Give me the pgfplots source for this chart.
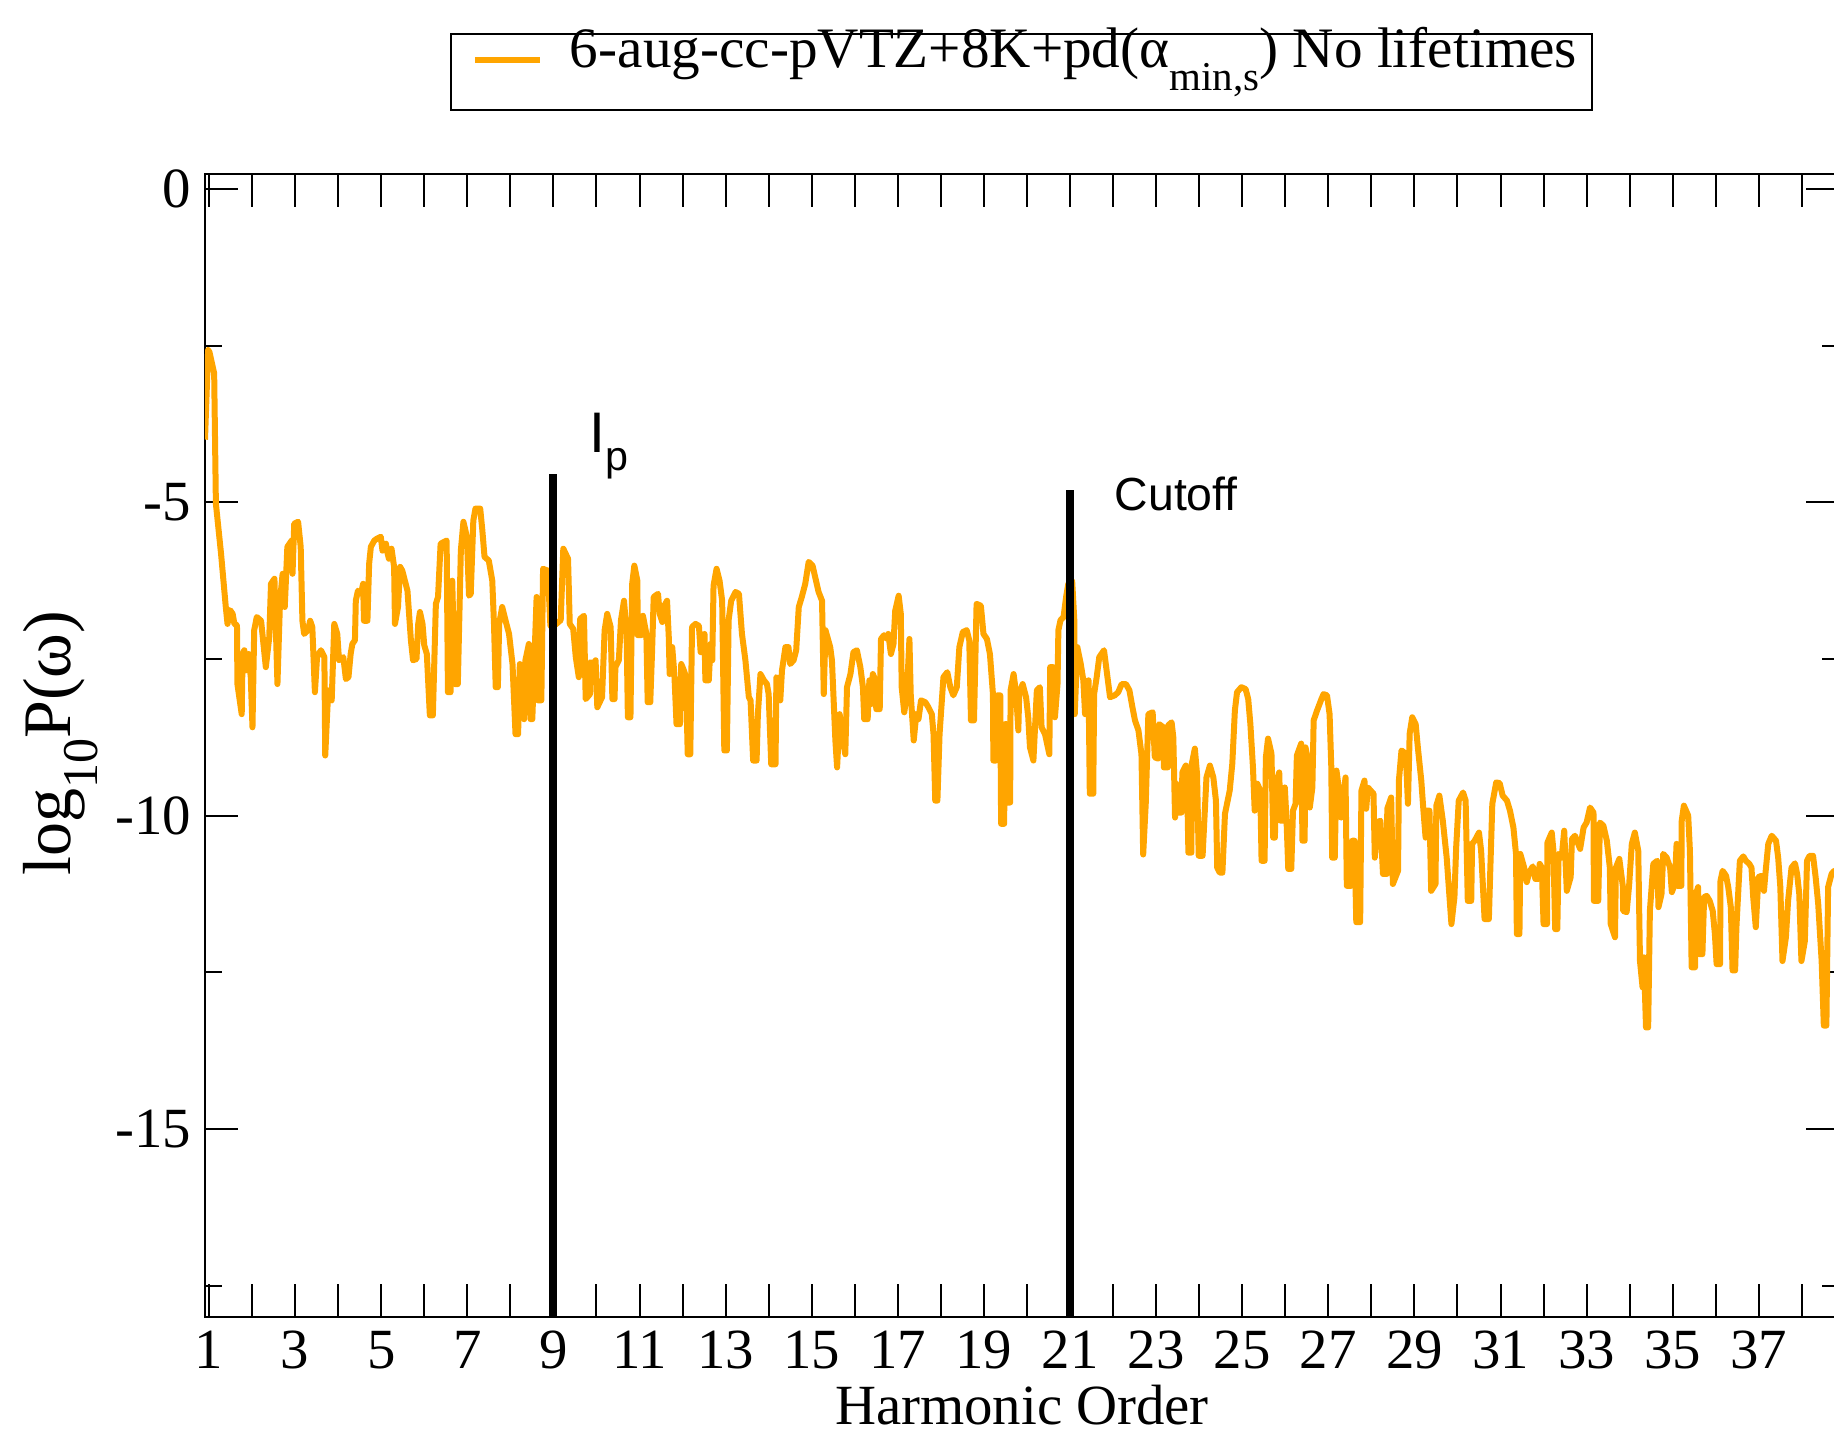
\documentclass[border=0pt]{standalone}
\usepackage{fontspec}
\setmainfont{Liberation Serif}
\newfontfamily\sansf{Liberation Sans}
\usepackage{pgfplots}
\pgfplotsset{compat=1.18}
\definecolor{xorange}{RGB}{255,165,0}
\begin{document}
\begin{tikzpicture}
\begin{axis}[
  at={(0,0)}, anchor=south west,
  scale only axis,
  width=408.5pt, height=285.75pt,
  xmin=0.907, xmax=38.863, ymin=-18, ymax=0.24,
  xtick={1,...,38},
  xticklabels={1,,3,,5,,7,,9,,11,,13,,15,,17,,19,,21,,23,,25,,27,,29,,31,,33,,35,,37,},
  ytick={-15,-10,-5,0},
  yticklabels={-15,-10,-5,0},
  minor ytick={-17.5,-12.5,-7.5,-2.5},
  major tick length=8.2pt,
  minor tick length=4.2pt,
  tick align=inside,
  tick style={black, line width=0.5pt},
  axis line style={line width=0.55pt},
  ticklabel style={font=\fontsize{14.2}{17}\selectfont},
  xlabel={Harmonic Order},
  ylabel={log\raisebox{-6.75pt}{\fontsize{12.5}{14}\selectfont 10}P(ω)},
  xlabel style={at={(axis description cs:0.5,-0.0775)}, anchor=center, font=\fontsize{14.2}{17}\selectfont},
  ylabel style={at={(axis description cs:-0.0881,0.502)}, anchor=center, font=\fontsize{17}{20}\selectfont},
  legend style={at={(axis description cs:0.14994,1.0551)}, anchor=south west,
    draw=black, line width=0.5pt, fill=white,
    inner xsep=3.75pt, inner ysep=0pt,
    font=\fontsize{14.3}{17}\selectfont,
    nodes={inner sep=0pt, text height=8.25pt, text depth=10.75pt},
    column sep=6.75pt},
  legend cell align=left,
  legend image code/.code={\path (0pt,0pt); \draw[#1] (1.5pt,3pt) -- (17.75pt,3pt);},
  clip=true,
]
\addplot[xorange, line width=1.5pt, line join=round] table {
0.907 -4.0
0.98 -2.57
1.01 -2.60
1.12 -2.94
1.16 -5.02
1.28 -5.82
1.39 -6.67
1.43 -6.94
1.49 -6.72
1.55 -6.78
1.59 -6.94
1.65 -6.96
1.66 -7.90
1.76 -8.38
1.78 -7.42
1.82 -7.36
1.86 -7.68
1.92 -7.42
1.97 -7.79
2.01 -8.59
2.05 -7.04
2.11 -6.83
2.21 -6.89
2.32 -7.63
2.40 -7.15
2.44 -6.30
2.52 -6.22
2.59 -7.90
2.65 -6.57
2.71 -6.14
2.76 -6.67
2.82 -5.71
2.92 -5.61
2.94 -6.14
2.98 -5.34
3.07 -5.31
3.13 -5.71
3.17 -6.89
3.21 -7.10
3.30 -7.04
3.35 -6.89
3.40 -6.99
3.46 -8.03
3.51 -7.47
3.60 -7.36
3.68 -7.47
3.70 -9.04
3.77 -8.00
3.85 -8.16
3.91 -6.94
3.98 -7.10
4.02 -7.52
4.12 -7.47
4.18 -7.82
4.24 -7.79
4.29 -7.42
4.33 -7.26
4.39 -7.20
4.41 -6.57
4.46 -6.41
4.53 -6.46
4.58 -6.30
4.60 -6.89
4.68 -6.89
4.72 -5.98
4.76 -5.71
4.84 -5.61
4.90 -5.58
4.99 -5.55
5.03 -5.77
5.11 -5.66
5.15 -5.82
5.18 -5.90
5.24 -5.74
5.30 -6.03
5.32 -6.94
5.39 -6.67
5.44 -6.03
5.49 -6.09
5.61 -6.41
5.69 -7.20
5.74 -7.52
5.82 -7.50
5.86 -6.94
5.90 -6.75
5.96 -6.94
6.00 -7.28
6.06 -7.42
6.13 -8.40
6.20 -8.40
6.27 -6.62
6.32 -6.51
6.38 -5.66
6.52 -5.61
6.55 -8.03
6.61 -8.03
6.65 -6.25
6.71 -7.90
6.78 -7.90
6.85 -5.77
6.91 -5.31
6.99 -5.55
7.04 -6.49
7.08 -6.46
7.14 -5.29
7.19 -5.10
7.30 -5.10
7.35 -5.45
7.40 -5.87
7.50 -5.93
7.58 -6.25
7.62 -6.94
7.66 -7.95
7.71 -7.95
7.74 -6.94
7.81 -6.67
7.89 -6.89
7.97 -7.10
8.05 -7.58
8.12 -8.70
8.18 -8.70
8.22 -7.58
8.25 -8.32
8.32 -8.46
8.35 -7.52
8.43 -7.26
8.47 -8.46
8.51 -8.46
8.61 -6.51
8.64 -8.16
8.72 -8.16
8.76 -6.06
8.87 -6.09
8.93 -6.97
9.05 -6.95
9.17 -6.88
9.23 -5.74
9.34 -5.90
9.38 -6.94
9.46 -7.02
9.52 -7.47
9.59 -7.79
9.62 -6.86
9.71 -6.81
9.75 -8.14
9.85 -8.06
9.86 -7.55
9.94 -7.58
9.98 -7.52
10.02 -8.27
10.13 -8.11
10.19 -7.04
10.25 -6.78
10.33 -6.99
10.37 -8.14
10.42 -8.14
10.44 -7.63
10.52 -7.52
10.57 -6.88
10.64 -6.57
10.70 -7.07
10.73 -8.43
10.79 -8.43
10.83 -6.30
10.88 -6.01
10.95 -6.25
10.96 -7.12
11.04 -7.12
11.08 -6.81
11.16 -7.10
11.19 -8.19
11.25 -8.19
11.29 -7.42
11.33 -6.51
11.43 -6.46
11.47 -6.78
11.53 -6.91
11.56 -6.67
11.64 -6.57
11.68 -7.15
11.70 -7.74
11.76 -7.31
11.81 -7.74
11.86 -8.54
11.94 -8.54
11.97 -7.58
12.03 -7.68
12.08 -7.79
12.12 -9.02
12.18 -9.02
12.22 -6.99
12.30 -6.94
12.38 -6.97
12.42 -7.39
12.48 -7.39
12.51 -7.10
12.53 -7.84
12.61 -7.84
12.65 -7.26
12.69 -7.52
12.72 -6.33
12.79 -6.06
12.86 -6.25
12.92 -6.57
12.97 -8.96
13.03 -8.96
13.07 -6.88
13.13 -6.57
13.23 -6.43
13.31 -6.46
13.38 -7.10
13.46 -7.52
13.54 -8.11
13.58 -8.16
13.64 -9.12
13.72 -9.12
13.75 -8.38
13.81 -7.74
13.89 -7.84
13.96 -7.90
14.00 -8.06
14.06 -9.18
14.16 -9.18
14.18 -7.79
14.23 -7.82
14.27 -8.16
14.31 -7.68
14.39 -7.31
14.46 -7.31
14.50 -7.58
14.58 -7.52
14.64 -7.36
14.70 -6.67
14.77 -6.51
14.85 -6.30
14.93 -5.95
15.02 -6.01
15.08 -6.19
15.16 -6.43
15.24 -6.57
15.28 -8.06
15.32 -7.04
15.43 -7.31
15.47 -7.52
15.55 -8.80
15.59 -9.23
15.65 -8.38
15.70 -8.70
15.78 -9.02
15.82 -7.95
15.90 -7.74
15.97 -7.39
16.05 -7.36
16.13 -7.63
16.19 -7.95
16.22 -8.46
16.30 -8.46
16.34 -7.84
16.38 -8.22
16.42 -7.74
16.48 -7.84
16.50 -8.30
16.58 -8.30
16.61 -7.18
16.68 -7.12
16.75 -7.18
16.78 -7.10
16.84 -7.42
16.90 -7.26
16.94 -6.73
17.02 -6.49
17.07 -6.78
17.09 -7.95
17.15 -8.35
17.21 -8.06
17.27 -7.18
17.30 -8.06
17.37 -8.80
17.43 -8.38
17.48 -8.46
17.54 -8.16
17.64 -8.19
17.71 -8.27
17.79 -8.38
17.83 -8.70
17.87 -9.76
17.92 -9.76
17.97 -8.70
18.06 -7.79
18.15 -7.71
18.22 -7.95
18.29 -8.08
18.37 -7.95
18.43 -7.31
18.51 -7.07
18.60 -7.04
18.66 -7.20
18.70 -8.48
18.77 -8.48
18.83 -6.62
18.93 -6.65
18.99 -7.10
19.07 -7.18
19.14 -7.42
19.21 -8.06
19.22 -9.12
19.28 -9.12
19.31 -8.08
19.38 -8.08
19.40 -10.13
19.47 -10.13
19.49 -8.54
19.53 -8.54
19.55 -9.79
19.61 -9.79
19.62 -8.00
19.69 -7.74
19.75 -8.06
19.80 -8.64
19.82 -8.06
19.90 -7.90
19.98 -8.11
20.03 -8.43
20.07 -8.91
20.15 -9.12
20.23 -8.00
20.30 -7.95
20.34 -8.59
20.42 -8.70
20.52 -9.02
20.54 -7.63
20.61 -7.63
20.65 -8.43
20.71 -7.90
20.73 -7.04
20.78 -6.88
20.85 -6.83
20.91 -6.51
20.96 -6.30
21.05 -6.25
21.10 -6.88
21.11 -8.38
21.17 -7.31
21.25 -7.58
21.31 -7.84
21.35 -8.38
21.39 -8.06
21.43 -7.84
21.46 -9.65
21.54 -9.65
21.56 -8.06
21.62 -7.79
21.68 -7.47
21.79 -7.36
21.85 -7.68
21.93 -8.11
22.04 -8.08
22.12 -8.03
22.20 -7.90
22.30 -7.90
22.38 -8.00
22.45 -8.27
22.51 -8.48
22.59 -8.64
22.66 -9.02
22.70 -10.62
22.76 -9.80
22.82 -8.38
22.92 -8.35
22.97 -9.07
23.05 -9.09
23.07 -8.54
23.17 -8.59
23.18 -9.23
23.27 -9.23
23.28 -8.56
23.36 -8.51
23.40 -8.75
23.44 -10.03
23.47 -9.49
23.51 -9.95
23.59 -9.95
23.61 -9.31
23.69 -9.20
23.72 -9.44
23.75 -10.59
23.82 -10.59
23.83 -9.17
23.90 -8.93
23.95 -9.33
23.99 -10.64
24.08 -10.64
24.17 -9.39
24.25 -9.20
24.33 -9.39
24.39 -9.76
24.42 -10.83
24.48 -10.91
24.54 -10.91
24.60 -9.97
24.71 -9.60
24.77 -9.17
24.83 -8.32
24.88 -8.03
24.98 -7.95
25.08 -7.98
25.14 -8.14
25.19 -8.54
25.25 -9.23
25.29 -9.92
25.35 -9.49
25.42 -9.60
25.45 -10.72
25.52 -10.72
25.55 -9.07
25.60 -8.77
25.68 -9.01
25.72 -10.35
25.76 -10.35
25.78 -9.49
25.86 -9.31
25.89 -10.08
25.95 -10.08
25.99 -9.55
26.03 -10.08
26.07 -10.85
26.14 -10.85
26.18 -9.92
26.24 -9.81
26.27 -9.04
26.37 -8.85
26.40 -10.40
26.45 -10.40
26.47 -8.91
26.53 -9.12
26.57 -9.87
26.63 -9.55
26.66 -8.48
26.74 -8.32
26.84 -8.14
26.89 -8.06
26.97 -8.08
27.03 -8.38
27.07 -9.23
27.09 -10.67
27.15 -10.67
27.19 -9.28
27.26 -9.65
27.30 -10.03
27.40 -9.39
27.43 -11.12
27.53 -11.12
27.56 -10.40
27.61 -10.40
27.65 -11.70
27.74 -11.70
27.77 -9.60
27.84 -9.44
27.88 -9.89
27.92 -9.55
28.05 -9.65
28.08 -10.67
28.15 -10.11
28.21 -10.08
28.23 -10.35
28.27 -10.93
28.36 -10.93
28.37 -9.89
28.46 -9.71
28.50 -11.09
28.62 -10.88
28.64 -9.44
28.70 -8.96
28.80 -9.01
28.85 -9.81
28.89 -8.69
28.95 -8.43
29.03 -8.54
29.08 -8.91
29.16 -9.44
29.21 -9.92
29.26 -10.35
29.28 -9.92
29.35 -9.92
29.39 -11.20
29.49 -11.09
29.51 -9.84
29.58 -9.68
29.66 -10.08
29.75 -10.67
29.86 -11.73
29.93 -11.30
29.97 -10.51
30.03 -9.76
30.13 -9.63
30.19 -9.76
30.24 -11.36
30.32 -11.36
30.34 -10.45
30.40 -10.40
30.50 -10.27
30.55 -10.56
30.63 -11.65
30.73 -11.65
30.76 -10.93
30.81 -9.81
30.90 -9.47
30.98 -9.48
31.05 -9.68
31.15 -9.76
31.22 -9.92
31.30 -10.19
31.36 -10.61
31.38 -11.89
31.44 -11.89
31.46 -10.61
31.55 -10.83
31.61 -11.06
31.67 -10.90
31.75 -10.81
31.81 -11.01
31.88 -11.01
31.91 -10.77
31.96 -10.83
32.00 -11.73
32.08 -11.73
32.09 -10.43
32.19 -10.27
32.23 -10.56
32.27 -11.81
32.32 -11.81
32.35 -10.61
32.42 -10.67
32.48 -10.24
32.54 -11.20
32.63 -10.98
32.66 -10.37
32.73 -10.32
32.85 -10.53
32.93 -10.19
33.00 -10.11
33.08 -9.87
33.16 -9.95
33.17 -11.36
33.27 -11.36
33.31 -10.11
33.39 -10.16
33.47 -10.40
33.54 -10.83
33.56 -11.73
33.66 -11.94
33.68 -10.83
33.76 -10.69
33.84 -11.12
33.85 -11.52
33.93 -11.54
33.99 -11.09
34.05 -10.45
34.12 -10.27
34.20 -10.56
34.24 -12.32
34.30 -12.74
34.33 -12.26
34.38 -13.38
34.43 -13.38
34.47 -11.52
34.55 -10.77
34.64 -10.72
34.67 -11.46
34.74 -11.25
34.78 -10.61
34.86 -10.67
34.94 -10.83
34.98 -11.22
35.05 -11.09
35.09 -10.45
35.11 -11.12
35.20 -11.12
35.21 -10.08
35.26 -9.84
35.36 -10.00
35.40 -10.56
35.44 -12.42
35.52 -12.42
35.54 -11.25
35.59 -11.14
35.62 -12.21
35.69 -12.21
35.73 -11.30
35.79 -11.28
35.86 -11.36
35.93 -11.52
35.98 -11.89
36.02 -12.37
36.10 -12.37
36.11 -11.04
36.16 -10.88
36.24 -10.96
36.29 -11.14
36.35 -11.46
36.39 -12.47
36.45 -12.47
36.48 -11.78
36.56 -10.72
36.64 -10.65
36.70 -10.72
36.78 -10.77
36.83 -10.83
36.87 -11.30
36.93 -11.78
36.99 -10.98
37.06 -10.96
37.12 -11.20
37.16 -10.88
37.22 -10.45
37.30 -10.32
37.40 -10.40
37.45 -10.67
37.50 -11.14
37.55 -12.32
37.63 -11.94
37.68 -11.36
37.76 -10.83
37.84 -10.76
37.89 -10.93
37.94 -11.25
37.99 -12.32
38.07 -12.00
38.12 -10.72
38.18 -10.64
38.26 -10.64
38.32 -10.98
38.38 -11.41
38.46 -12.32
38.51 -13.35
38.57 -13.35
38.61 -11.14
38.69 -10.93
38.75 -10.88
38.86 -11.00
};
\addlegendentry{6-aug-cc-pVTZ+8K+pd(α\raisebox{-5.8pt}{\fontsize{10.25}{12}\selectfont min,s}) No lifetimes}
\addplot[black, line width=2pt, forget plot] coordinates {(9,-4.55) (9,-18)};
\addplot[black, line width=2pt, forget plot] coordinates {(21,-4.81) (21,-18)};
\node[anchor=base west, inner sep=0pt, font=\sansf\fontsize{14.3}{17}\selectfont] at (axis cs:9.83,-4.21) {I\raisebox{-4.5pt}{\fontsize{10.3}{12}\selectfont p}};
\node[anchor=west, inner sep=0pt, font=\sansf\fontsize{11.6}{14}\selectfont] at (axis cs:22.02,-4.86) {Cutoff};
\end{axis}
\pgfresetboundingbox
\path[use as bounding box] (-51.25pt,-29pt) rectangle (407.25pt,329.25pt);
\end{tikzpicture}
\end{document}
